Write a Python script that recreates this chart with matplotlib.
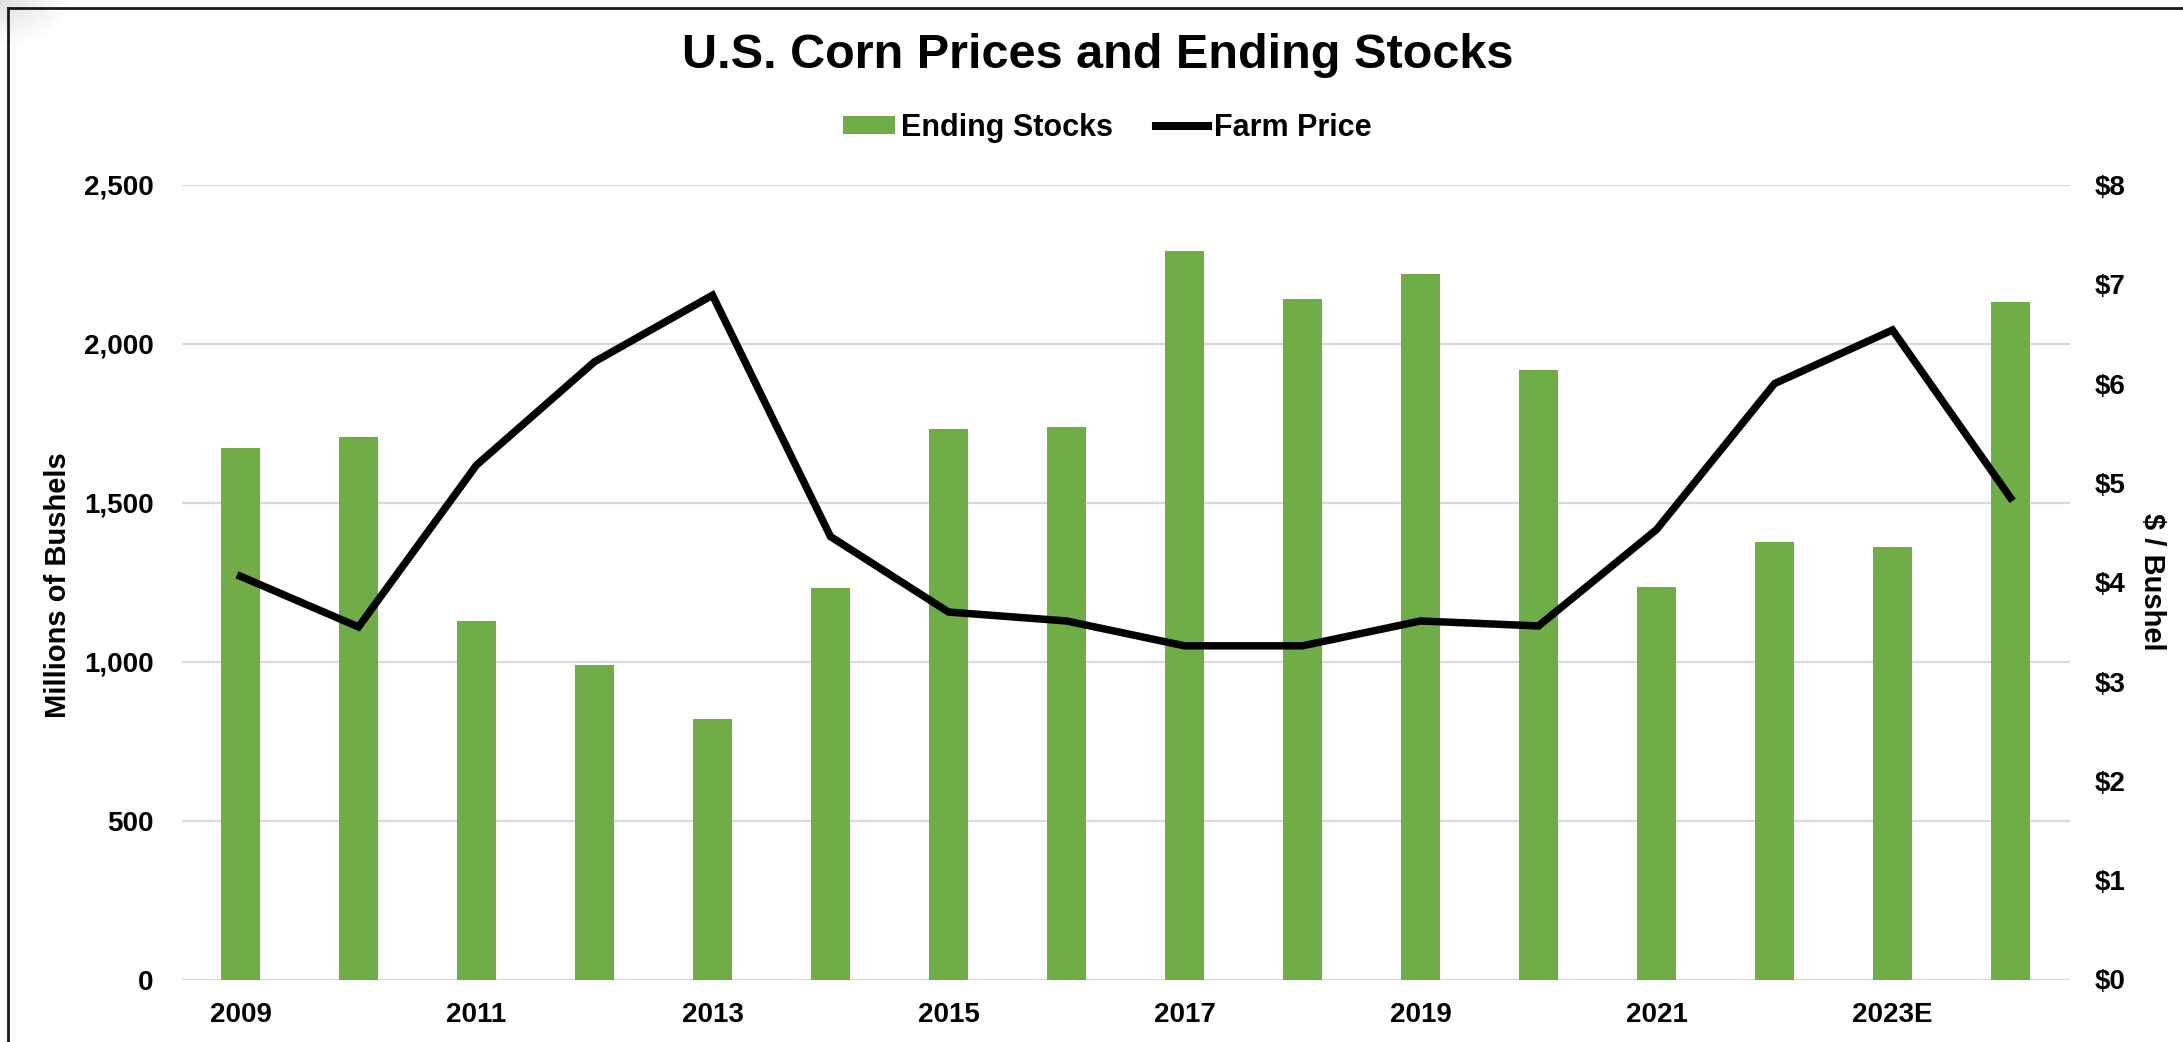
#!/usr/bin/env python3
"""U.S. corn prices and ending stocks: bars for stocks, line for farm price."""

import matplotlib as mpl
import matplotlib.pyplot as plt
import numpy as np
from matplotlib.lines import Line2D
from matplotlib.patches import Patch


YEARS = ["2009", "2010", "2011", "2012", "2013", "2014", "2015", "2016",
         "2017", "2018", "2019", "2020", "2021", "2022", "2023E", "2024P"]
# million bushels
ENDING_STOCKS = [1673, 1708, 1128, 989, 821, 1232, 1731, 1737,
                 2293, 2140, 2221, 1919, 1235, 1377, 1360, 2131]
# $ per bushel
FARM_PRICE = [4.06, 3.55, 5.18, 6.22, 6.89, 4.46, 3.70, 3.61,
              3.36, 3.36, 3.61, 3.56, 4.53, 6.00, 6.54, 4.85]

LEFT_TICKS = [0, 500, 1000, 1500, 2000, 2500]
RIGHT_TICKS = [0, 1, 2, 3, 4, 5, 6, 7, 8]

GREEN = "#70AD47"
GRID = "#D9D9D9"


def main():
    mpl.rcParams.update({
        "font.family": ["Liberation Sans", "DejaVu Sans"],
        "font.weight": "bold",
        "axes.unicode_minus": False,
    })

    W, H = 2183, 1042
    fig = plt.figure(figsize=(W / 100, H / 100), dpi=100)
    ax = fig.add_axes([181.5 / W, 1 - 979.5 / H,
                       1888 / W, 794.5 / H])
    ax2 = ax.twinx()

    x = np.arange(len(YEARS))
    ax.bar(x, ENDING_STOCKS, width=0.33, color=GREEN, zorder=2)
    ax2.plot(x, FARM_PRICE, color="black", linewidth=5.4,
             solid_joinstyle="miter", zorder=3)

    ax.set_xlim(-0.5, len(YEARS) - 0.5)
    ax.set_ylim(0, 2500)
    ax.set_yticks(LEFT_TICKS)
    ax.set_yticklabels([f"{v:,}" for v in LEFT_TICKS])
    ax2.set_ylim(0, 8)
    ax2.set_yticks(RIGHT_TICKS)
    ax2.set_yticklabels([f"${v}" for v in RIGHT_TICKS])

    shown = x[::2]
    ax.set_xticks(shown)
    ax.set_xticklabels([YEARS[i] for i in shown])

    ax.set_axisbelow(True)
    ax.grid(axis="y", color=GRID, linewidth=1.6)
    ax.grid(axis="x", visible=False)

    for a in (ax, ax2):
        for s in a.spines.values():
            s.set_visible(False)
    ax.tick_params(axis="y", length=0, pad=20, labelsize=20)
    ax.tick_params(axis="x", length=0, pad=16, labelsize=20)
    ax2.tick_params(axis="y", length=0, pad=18, labelsize=20)

    fig.text(58 / W, 1 - 585 / H, "Millions of Bushels", rotation=90,
             ha="center", va="center", fontsize=21, fontweight="bold")
    fig.text(2152 / W, 1 - 582 / H, "$ / Bushel", rotation=-90,
             ha="center", va="center", fontsize=21, fontweight="bold")

    fig.text(1098 / W, 1 - 55 / H, "U.S. Corn Prices and Ending Stocks",
             ha="center", va="center", fontsize=35, fontweight="bold")

    handles = [
        Patch(facecolor=GREEN, edgecolor="none"),
        Line2D([], [], color="black", linewidth=5.8),
    ]
    fig.legend(handles, ["Ending Stocks", "Farm Price"],
               loc="center", bbox_to_anchor=(1107 / W, 1 - 128 / H),
               ncol=2, frameon=False, fontsize=22,
               handlelength=1.7, handleheight=0.52,
               handletextpad=0.2, columnspacing=1.4)

    # soft grey shadow in the top-left corner of the screenshot
    yy, xx = np.mgrid[0:60, 0:110]
    r = np.hypot(xx / 1.6, yy)
    shade = np.clip(1 - r / 45, 0, 1) * 0.22
    rgba = np.zeros((60, 110, 4))
    rgba[..., :3] = 0.45
    rgba[..., 3] = shade
    fig.figimage(rgba, xo=0, yo=H - 60, origin="upper", zorder=0)

    # frame of the pasted chart (cut off at right and bottom)
    fig.add_artist(Line2D([8 / W, 1], [1 - 8 / H, 1 - 8 / H],
                          transform=fig.transFigure, color="#1a1a1a", lw=2))
    fig.add_artist(Line2D([8 / W, 8 / W], [0, 1 - 8 / H],
                          transform=fig.transFigure, color="#1a1a1a", lw=2))

    fig.savefig("out.png", dpi=100, facecolor="white")
    plt.close(fig)


if __name__ == "__main__":
    main()
